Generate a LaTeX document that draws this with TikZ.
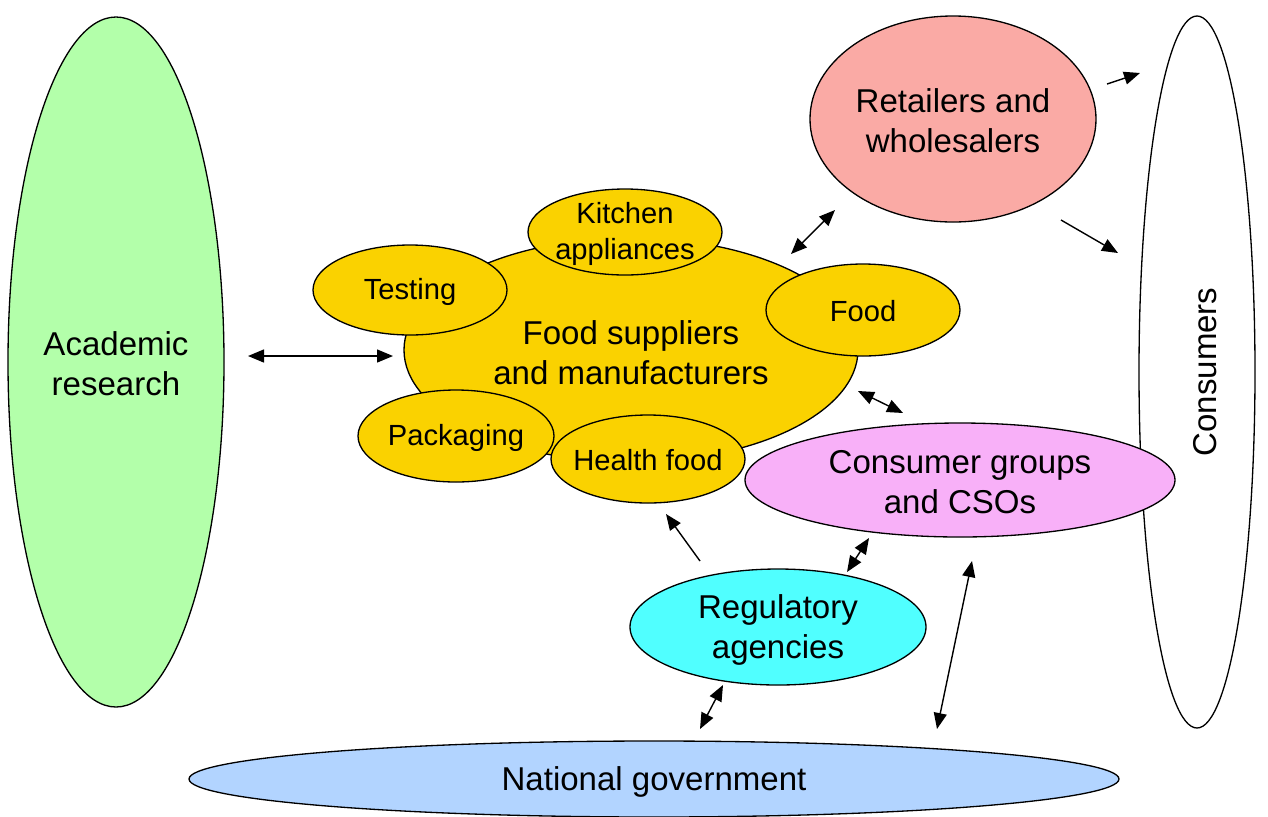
\documentclass[tikz,border=0pt]{standalone}
\usepackage{fontspec}
\setmainfont{Liberation Sans}
\usetikzlibrary{shapes.geometric,arrows.meta}
\definecolor{cAcad}{RGB}{179,255,170}
\definecolor{cRet}{RGB}{250,170,165}
\definecolor{cYel}{RGB}{250,210,0}
\definecolor{cPink}{RGB}{248,176,248}
\definecolor{cCyan}{RGB}{80,255,255}
\definecolor{cBlue}{RGB}{178,212,255}
\tikzset{
  oval/.style={ellipse, draw=black, line width=0.75pt, inner sep=0pt},
  bigtxt/.style={font=\fontsize{18.8}{22.7}\selectfont, align=center, inner sep=0pt},
  smalltxt/.style={font=\fontsize{16.6}{20.4}\selectfont, align=center, inner sep=0pt},
  tip/.style={Triangle[length=0.32cm,width=0.26cm]},
  arr/.style={-{Triangle[length=0.32cm,width=0.26cm]}, line width=0.8pt},
  darr/.style={{Triangle[length=0.32cm,width=0.26cm]}-{Triangle[length=0.32cm,width=0.26cm]}, line width=0.8pt},
}
\begin{document}
\begin{tikzpicture}[x=0.02cm,y=-0.02cm]
\useasboundingbox (0,0) rectangle (1268,816);
% large ellipses
\node[oval, fill=cAcad, minimum width=216*0.02cm, minimum height=690*0.02cm] (acad) at (116,362) {};
\node[bigtxt] (acadt) at (116,364) {Academic\\research};
\node[oval, fill=white, minimum width=116*0.02cm, minimum height=712*0.02cm] (cons) at (1197,372) {};
\node[bigtxt, rotate=90] (const) at (1205,372) {Consumers};
\node[oval, fill=cRet, minimum width=286*0.02cm, minimum height=206*0.02cm] (ret) at (953,119) {};
\node[bigtxt] (rett) at (953,121) {Retailers and\\wholesalers};
\node[oval, fill=cBlue, minimum width=930*0.02cm, minimum height=76*0.02cm] (nat) at (654,779) {};
\node[bigtxt] (natt) at (654,782) {National government};
% food cluster
\node[oval, fill=cYel, minimum width=454*0.02cm, minimum height=224*0.02cm] (food) at (631,350) {};
\node[bigtxt] (foodt) at (631,353) {Food suppliers\\and manufacturers};
\node[oval, fill=cYel, minimum width=194*0.02cm, minimum height=86*0.02cm] (kit) at (625,232) {};
\node[smalltxt] (kitt) at (625,234) {Kitchen\\appliances};
\node[oval, fill=cYel, minimum width=194*0.02cm, minimum height=90*0.02cm] (test) at (410,290) {};
\node[smalltxt] (testt) at (410,292) {Testing};
\node[oval, fill=cYel, minimum width=194*0.02cm, minimum height=92*0.02cm] (fd) at (863,310) {};
\node[smalltxt] (fdt) at (863,311) {Food};
\node[oval, fill=cYel, minimum width=196*0.02cm, minimum height=92*0.02cm] (pack) at (456,436) {};
\node[smalltxt] (packt) at (456,438) {Packaging};
\node[oval, fill=cYel, minimum width=194*0.02cm, minimum height=88*0.02cm] (hf) at (648,459) {};
\node[smalltxt] (hft) at (648,460) {Health food};
% consumer groups and regulatory
\node[oval, fill=cPink, minimum width=430*0.02cm, minimum height=114*0.02cm] (cg) at (960,480) {};
\node[bigtxt] (cgt) at (960,482) {Consumer groups\\and CSOs};
\node[oval, fill=cCyan, minimum width=296*0.02cm, minimum height=116*0.02cm] (reg) at (778,627) {};
\node[bigtxt] (regt) at (778,630) {Regulatory\\agencies};
% connector end points
\coordinate (a1) at (248,356); \coordinate (a2) at (393,356);
\coordinate (b1) at (791,254); \coordinate (b2) at (835,210);
\coordinate (c1) at (1107,84); \coordinate (c2) at (1140,73);
\coordinate (d1) at (1061,220); \coordinate (d2) at (1118,253);
\coordinate (e1) at (858,391); \coordinate (e2) at (903,413);
\coordinate (f1) at (700,561); \coordinate (f2) at (666,514);
\coordinate (g1) at (869,538); \coordinate (g2) at (847,572);
\coordinate (h1) at (723,685); \coordinate (h2) at (700,729);
\coordinate (i1) at (972,561); \coordinate (i2) at (937,729);
\draw[darr] (a1) -- (a2);
\draw[darr] (b1) -- (b2);
\draw[arr] (c1) -- (c2);
\draw[arr] (d1) -- (d2);
\draw[darr] (e1) -- (e2);
\draw[arr] (f1) -- (f2);
\draw[darr] (g1) -- (g2);
\draw[darr] (h1) -- (h2);
\draw[darr] (i1) -- (i2);
\end{tikzpicture}
\end{document}
